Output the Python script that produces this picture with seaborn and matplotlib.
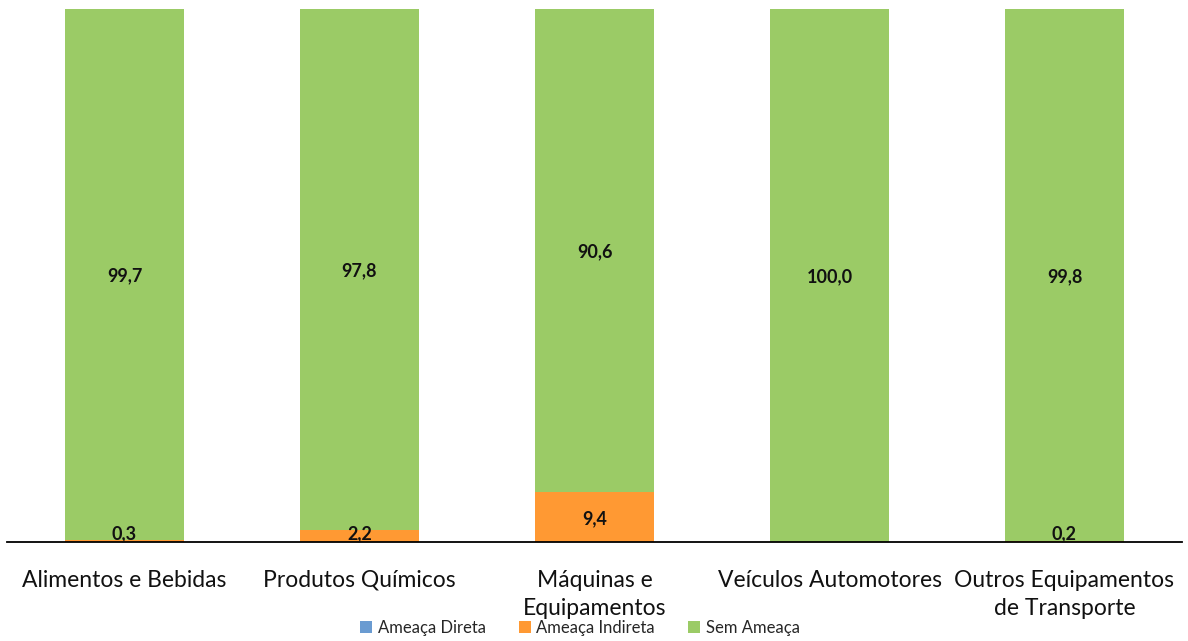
import matplotlib
matplotlib.use("Agg")
import matplotlib.pyplot as plt
import seaborn as sns
import pandas as pd
import numpy as np
from matplotlib.patches import Patch

sns.set_theme(style="white")
plt.rcParams["font.family"] = ["Lato", "DejaVu Sans"]

categories = ["Alimentos e Bebidas", "Produtos Químicos", "Máquinas e\nEquipamentos",
              "Veículos Automotores", "Outros Equipamentos\nde Transporte"]
ameaca_direta = [0.0, 0.0, 0.0, 0.0, 0.0]
ameaca_indireta = [0.3, 2.2, 9.4, 0.0, 0.2]
sem_ameaca = [99.7, 97.8, 90.6, 100.0, 99.8]

series_names = ["Ameaça Direta", "Ameaça Indireta", "Sem Ameaça"]
series_values = [ameaca_direta, ameaca_indireta, sem_ameaca]
colors = ["#6A9BD1", "#FF9933", "#9BCB66"]

fig = plt.figure(figsize=(11.88, 6.41), dpi=100)
ax = fig.add_axes([7 / 1188, 99 / 641, 1175 / 1188, 533 / 641])

bottom = np.zeros(len(categories))
for name, vals, col in zip(series_names, series_values, colors):
    df = pd.DataFrame({"cat": categories, "val": vals})
    sns.barplot(data=df, x="cat", y="val", order=categories, color=col,
                width=0.51, bottom=bottom, ax=ax, saturation=1, errorbar=None,
                linewidth=0, edgecolor="none")
    for i, v in enumerate(vals):
        if v > 0:
            # keep labels of very thin segments just above the baseline
            ypos = max(bottom[i] + v / 2, 1.8)
            ax.text(i, ypos, f"{v:.1f}".replace(".", ","),
                    ha="center", va="center_baseline", fontsize=13, fontweight="bold",
                    color="#111111")
    bottom = bottom + np.array(vals)

ax.set_ylim(0, 100)
ax.set_xlim(-0.5, len(categories) - 0.5)
ax.set_xlabel("")
ax.set_ylabel("")
ax.set_yticks([])
for s in ["top", "right", "left"]:
    ax.spines[s].set_visible(False)
ax.spines["bottom"].set_color("#000000")
ax.spines["bottom"].set_linewidth(1.3)
ax.set_axisbelow(False)
ax.tick_params(axis="x", length=0, pad=20, labelsize=16.5, labelcolor="#111111")
for lbl in ax.get_xticklabels():
    lbl.set_linespacing(1.45)
    lbl.set_verticalalignment("top")

handles = [Patch(facecolor=c, edgecolor="none") for c in colors]
fig.legend(handles, series_names, loc="center", bbox_to_anchor=(580 / 1188, 1 - 628 / 641),
           ncol=3, frameon=False, fontsize=12, handlelength=0.7, handleheight=0.7,
           handletextpad=0.35, columnspacing=2.0)

fig.savefig("out.png", dpi=100)
